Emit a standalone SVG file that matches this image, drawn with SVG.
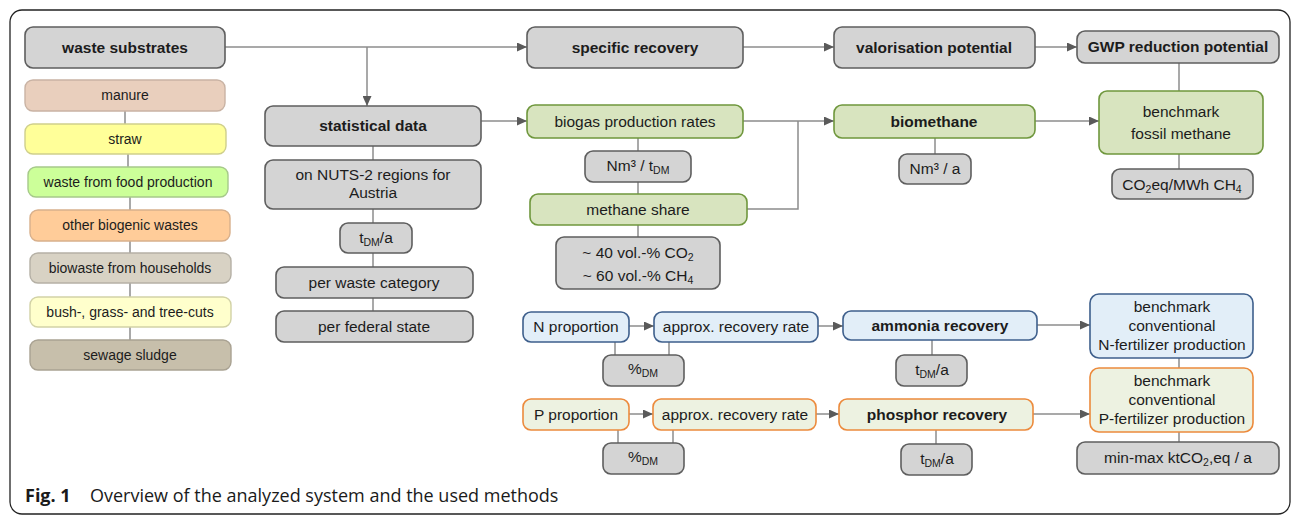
<svg xmlns="http://www.w3.org/2000/svg" width="1292" height="517" viewBox="0 0 1292 517">
  <defs>
    <marker id="ah" markerUnits="userSpaceOnUse" markerWidth="11" markerHeight="9" refX="10" refY="4.5" orient="auto">
      <path d="M0,0 L10,4.5 L0,9 z" fill="#5a5a5a"/>
    </marker>
    <style>
      .gy { fill: #d4d4d4; stroke: #5e5e5e; stroke-width: 1.6; }
      .gn { fill: #d8e4bf; stroke: #6f973d; stroke-width: 1.6; }
      .bl { fill: #e2eef8; stroke: #3e5f8c; stroke-width: 1.6; }
      .pp { fill: #edf2e1; stroke: #ec8a3c; stroke-width: 1.6; }
      .t { font-family: "Liberation Sans", Arial, sans-serif; font-size: 15.5px; fill: #1c1c1c; text-anchor: middle; }
      .sm { font-size: 14px; }
      .b { font-weight: bold; }
      .sub { font-size: 10.5px; }
      .ln { stroke: #8c8c8c; stroke-width: 1.5; fill: none; }
      .ar { marker-end: url(#ah); }
      .cap { font-family: "Open Sans", "Noto Sans", sans-serif; font-size: 18px; fill: #1a1a1a; }
    </style>
  </defs>

  <rect width="1292" height="517" fill="#ffffff"/>
  <!-- outer frame -->
  <rect x="10" y="10" width="1280" height="504" rx="12" fill="none" stroke="#222" stroke-width="1.3"/>

  <!-- connectors -->
  <g id="connectors">
    <!-- top row -->
    <path class="ln ar" d="M225,47 H527"/>
    <path class="ln ar" d="M367,47 V106"/>
    <path class="ln ar" d="M743,47 H834"/>
    <path class="ln ar" d="M1035,47 H1077"/>
    <path class="ln" d="M1179,63 V91"/>
    <path class="ln" d="M1179,154 V169"/>
    <!-- substrate column -->
    <path class="ln" d="M125,111 V124"/>
    <path class="ln" d="M128,154 V167"/>
    <path class="ln" d="M130,197 V210"/>
    <path class="ln" d="M130,241 V253"/>
    <path class="ln" d="M130,283 V297"/>
    <path class="ln" d="M130,327 V340"/>
    <!-- statistical column -->
    <path class="ln ar" d="M481,121 H527"/>
    <path class="ln" d="M373,146 V160"/>
    <path class="ln" d="M373,209 V223"/>
    <path class="ln" d="M373,253 V267"/>
    <path class="ln" d="M373,298 V311"/>
    <!-- biogas column -->
    <path class="ln" d="M638,138 V151"/>
    <path class="ln" d="M638,182 V194"/>
    <path class="ln" d="M638,225 V237"/>
    <path class="ln" d="M743,121 H798 M747,209 H798 V121"/>
    <path class="ln ar" d="M798,121 H834"/>
    <path class="ln" d="M935,138 V154"/>
    <path class="ln ar" d="M1035,121 H1099"/>
    <!-- nitrogen row -->
    <path class="ln ar" d="M629,326 H654"/>
    <path class="ln ar" d="M818,326 H843"/>
    <path class="ln ar" d="M1037,325 H1090"/>
    <path class="ln" d="M615,342 V355"/>
    <path class="ln" d="M669,342 V355"/>
    <path class="ln" d="M932,340 V355"/>
    <path class="ln" d="M1179,358 V368"/>
    <!-- phosphorus row -->
    <path class="ln ar" d="M629,414 H653"/>
    <path class="ln ar" d="M816,414 H839"/>
    <path class="ln ar" d="M1033,414 H1090"/>
    <path class="ln" d="M618,430 V443"/>
    <path class="ln" d="M673,430 V443"/>
    <path class="ln" d="M936,430 V444"/>
    <path class="ln" d="M1179,432 V442"/>
  </g>

  <!-- substrates -->
  <g id="waste-substrates">
    <rect class="gy" x="25" y="27" width="200" height="41" rx="8"/>
    <text class="t b" x="125" y="53">waste substrates</text>
  </g>
  <g id="manure">
    <rect x="25" y="80" width="200" height="31" rx="8" fill="#e9cfbd" stroke="#c9b3a4" stroke-width="1.4"/>
    <text class="t sm" x="125" y="100">manure</text>
  </g>
  <g id="straw">
    <rect x="25" y="124" width="201" height="30" rx="8" fill="#ffff99" stroke="#cfcf8c" stroke-width="1.4"/>
    <text class="t sm" x="125" y="144">straw</text>
  </g>
  <g id="food-waste">
    <rect x="28" y="167" width="200" height="30" rx="8" fill="#ccff99" stroke="#a6c98a" stroke-width="1.4"/>
    <text class="t sm" x="128" y="187">waste from food production</text>
  </g>
  <g id="other-biogenic">
    <rect x="30" y="210" width="200" height="31" rx="8" fill="#ffcc99" stroke="#d8b08c" stroke-width="1.4"/>
    <text class="t sm" x="130" y="230">other biogenic wastes</text>
  </g>
  <g id="biowaste">
    <rect x="30" y="253" width="201" height="30" rx="8" fill="#d8d2c4" stroke="#b5b0a5" stroke-width="1.4"/>
    <text class="t sm" x="130" y="273">biowaste from households</text>
  </g>
  <g id="cuts">
    <rect x="30" y="297" width="201" height="30" rx="8" fill="#ffffcc" stroke="#d2d2a6" stroke-width="1.4"/>
    <text class="t sm" x="130" y="317">bush-, grass- and tree-cuts</text>
  </g>
  <g id="sewage-sludge">
    <rect x="30" y="340" width="201" height="30" rx="8" fill="#c7bfab" stroke="#a9a292" stroke-width="1.4"/>
    <text class="t sm" x="130" y="360">sewage sludge</text>
  </g>

  <!-- statistical data -->
  <g id="statistical-data">
    <rect class="gy" x="265" y="106" width="216" height="40" rx="8"/>
    <text class="t b" x="373" y="131">statistical data</text>
  </g>
  <g id="nuts2">
    <rect class="gy" x="265" y="160" width="216" height="49" rx="8"/>
    <text class="t" x="373" y="180">on NUTS-2 regions for</text>
    <text class="t" x="373" y="198">Austria</text>
  </g>
  <g id="unit-tdm">
    <rect class="gy" x="340" y="223" width="72" height="30" rx="8"/>
    <text class="t" x="376" y="243">t<tspan class="sub" dy="3">DM</tspan><tspan dy="-3">/a</tspan></text>
  </g>
  <g id="per-category">
    <rect class="gy" x="276" y="267" width="197" height="31" rx="8"/>
    <text class="t" x="374" y="288">per waste category</text>
  </g>
  <g id="per-state">
    <rect class="gy" x="276" y="311" width="197" height="31" rx="8"/>
    <text class="t" x="374" y="332">per federal state</text>
  </g>

  <!-- top row -->
  <g id="specific-recovery">
    <rect class="gy" x="527" y="27" width="216" height="41" rx="8"/>
    <text class="t b" x="635" y="53">specific recovery</text>
  </g>
  <g id="valorisation">
    <rect class="gy" x="834" y="27" width="201" height="41" rx="8"/>
    <text class="t b" x="934" y="53">valorisation potential</text>
  </g>
  <g id="gwp">
    <rect class="gy" x="1077" y="31" width="202" height="32" rx="8"/>
    <text class="t b" x="1178" y="52">GWP reduction potential</text>
  </g>

  <!-- biogas branch -->
  <g id="biogas-rates">
    <rect class="gn" x="527" y="105" width="216" height="33" rx="8"/>
    <text class="t" x="635" y="127">biogas production rates</text>
  </g>
  <g id="unit-nm3-tdm">
    <rect class="gy" x="585" y="151" width="106" height="31" rx="8"/>
    <text class="t" x="638" y="171">Nm³ / t<tspan class="sub" dy="3">DM</tspan></text>
  </g>
  <g id="methane-share">
    <rect class="gn" x="530" y="194" width="217" height="31" rx="8"/>
    <text class="t" x="638" y="215">methane share</text>
  </g>
  <g id="gas-composition">
    <rect class="gy" x="556" y="237" width="164" height="52" rx="8"/>
    <text class="t" x="638" y="258">~ 40 vol.-% CO<tspan class="sub" dy="3">2</tspan></text>
    <text class="t" x="638" y="281">~ 60 vol.-% CH<tspan class="sub" dy="3">4</tspan></text>
  </g>
  <g id="biomethane">
    <rect class="gn" x="834" y="105" width="201" height="33" rx="8"/>
    <text class="t b" x="934" y="127">biomethane</text>
  </g>
  <g id="unit-nm3-a">
    <rect class="gy" x="899" y="154" width="72" height="30" rx="8"/>
    <text class="t" x="935" y="174">Nm³ / a</text>
  </g>
  <g id="benchmark-fossil">
    <rect class="gn" x="1099" y="91" width="164" height="63" rx="8"/>
    <text class="t" x="1181" y="117">benchmark</text>
    <text class="t" x="1181" y="139">fossil methane</text>
  </g>
  <g id="unit-co2eq-mwh">
    <rect class="gy" x="1112" y="169" width="141" height="30" rx="8"/>
    <text class="t" x="1182" y="190">CO<tspan class="sub" dy="3">2</tspan><tspan dy="-3">eq/MWh CH</tspan><tspan class="sub" dy="3">4</tspan></text>
  </g>

  <!-- nitrogen branch -->
  <g id="n-proportion">
    <rect class="bl" x="523" y="312" width="106" height="30" rx="8"/>
    <text class="t" x="576" y="332">N proportion</text>
  </g>
  <g id="n-recovery-rate">
    <rect class="bl" x="654" y="312" width="164" height="30" rx="8"/>
    <text class="t" x="736" y="332">approx. recovery rate</text>
  </g>
  <g id="n-unit">
    <rect class="gy" x="603" y="355" width="81" height="31" rx="8"/>
    <text class="t" x="643" y="374">%<tspan class="sub" dy="3">DM</tspan></text>
  </g>
  <g id="ammonia-recovery">
    <rect class="bl" x="843" y="311" width="194" height="29" rx="8"/>
    <text class="t b" x="940" y="331">ammonia recovery</text>
  </g>
  <g id="ammonia-unit">
    <rect class="gy" x="896" y="355" width="71" height="31" rx="8"/>
    <text class="t" x="932" y="375">t<tspan class="sub" dy="3">DM</tspan><tspan dy="-3">/a</tspan></text>
  </g>
  <g id="benchmark-n">
    <rect class="bl" x="1090" y="294" width="163" height="64" rx="9"/>
    <text class="t" x="1172" y="312">benchmark</text>
    <text class="t" x="1172" y="331">conventional</text>
    <text class="t" x="1172" y="350">N-fertilizer production</text>
  </g>

  <!-- phosphorus branch -->
  <g id="p-proportion">
    <rect class="pp" x="523" y="399" width="106" height="31" rx="8"/>
    <text class="t" x="576" y="420">P proportion</text>
  </g>
  <g id="p-recovery-rate">
    <rect class="pp" x="653" y="399" width="163" height="31" rx="8"/>
    <text class="t" x="735" y="420">approx. recovery rate</text>
  </g>
  <g id="p-unit">
    <rect class="gy" x="603" y="443" width="81" height="31" rx="8"/>
    <text class="t" x="643" y="462">%<tspan class="sub" dy="3">DM</tspan></text>
  </g>
  <g id="phosphor-recovery">
    <rect class="pp" x="839" y="399" width="194" height="31" rx="8"/>
    <text class="t b" x="937" y="420">phosphor  recovery</text>
  </g>
  <g id="phosphor-unit">
    <rect class="gy" x="901" y="444" width="71" height="31" rx="8"/>
    <text class="t" x="937" y="464">t<tspan class="sub" dy="3">DM</tspan><tspan dy="-3">/a</tspan></text>
  </g>
  <g id="benchmark-p">
    <rect class="pp" x="1090" y="368" width="163" height="64" rx="9"/>
    <text class="t" x="1172" y="386">benchmark</text>
    <text class="t" x="1172" y="405">conventional</text>
    <text class="t" x="1172" y="424">P-fertilizer production</text>
  </g>
  <g id="ghg-range">
    <rect class="gy" x="1077" y="442" width="202" height="32" rx="8"/>
    <text class="t" x="1178" y="463">min-max ktCO<tspan class="sub" dy="3">2</tspan><tspan dy="-3">,eq / a</tspan></text>
  </g>

  <!-- caption -->
  <text class="cap" x="25" y="502"><tspan font-weight="bold">Fig. 1</tspan><tspan x="90">Overview of the analyzed system and the used methods</tspan></text>
</svg>
